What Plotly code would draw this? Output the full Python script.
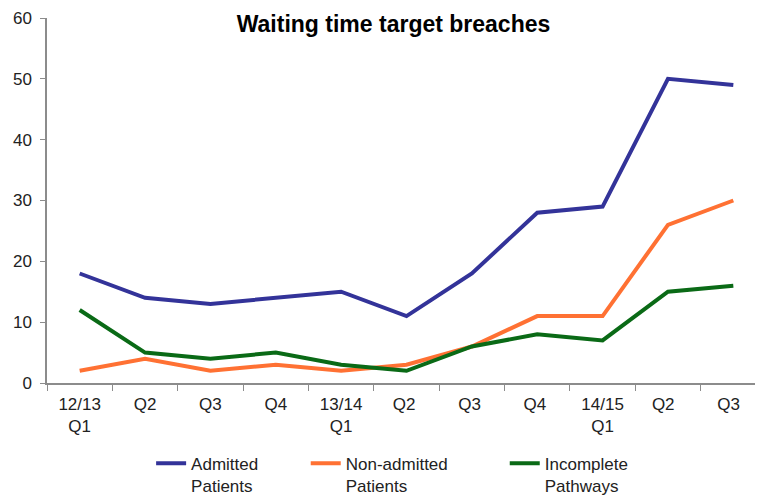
import plotly.graph_objects as go

categories = ["12/13<br>Q1", "Q2", "Q3", "Q4", "13/14<br>Q1", "Q2 ", "Q3 ", "Q4 ", "14/15<br>Q1", "Q2  ", "Q3  "]
admitted = [18, 14, 13, 14, 15, 11, 18, 28, 29, 50, 49]
non_admitted = [2, 4, 2, 3, 2, 3, 6, 11, 11, 26, 30]
incomplete = [12, 5, 4, 5, 3, 2, 6, 8, 7, 15, 16]

NB = "\u00a0"
series = [
    ("Admitted" + NB * 9 + "<br>Patients", admitted, "#333399"),
    ("Non-admitted" + NB * 11 + "<br>Patients", non_admitted, "#FF7133"),
    ("Incomplete<br>Pathways", incomplete, "#0A6A16"),
]

fig = go.Figure()
for name, vals, col in series:
    fig.add_trace(go.Scatter(x=categories, y=vals, mode="lines", name=name,
                             line=dict(color=col, width=4)))

font = "Liberation Sans, Arial, sans-serif"
fig.update_layout(
    width=771, height=530,
    margin=dict(l=39, r=13, t=10, b=155),
    paper_bgcolor="white", plot_bgcolor="white",
    title=dict(text="<b>Waiting time target breaches</b>", x=0.5, xanchor="center",
               y=0.969, yanchor="middle",
               font=dict(family=font, size=23, color="black")),
    xaxis=dict(type="category", range=[-0.5, 10.5], automargin=False,
               showgrid=False, showline=True, linecolor="#8c8c8c", linewidth=1.5,
               ticks="outside", ticklen=6, tickcolor="#8c8c8c", tickson="boundaries",
               ticklabelstandoff=5,
               tickfont=dict(family=font, size=17, color="#222222"), zeroline=False),
    yaxis=dict(range=[0, 60], tickvals=[0, 10, 20, 30, 40, 50, 60], showgrid=False,
               automargin=False,
               showline=True, linecolor="#8c8c8c", linewidth=1.5,
               ticks="outside", ticklen=5, tickcolor="#8c8c8c", ticklabelstandoff=5,
               tickfont=dict(family=font, size=17, color="#222222"),
               zeroline=False),
    legend=dict(orientation="h", x=0.48, xanchor="center", y=-0.172, yanchor="top",
                valign="top",
                font=dict(family=font, size=17, color="#222222"),
                itemwidth=30, tracegroupgap=0),
    showlegend=True,
)
fig.write_html("out.html")
